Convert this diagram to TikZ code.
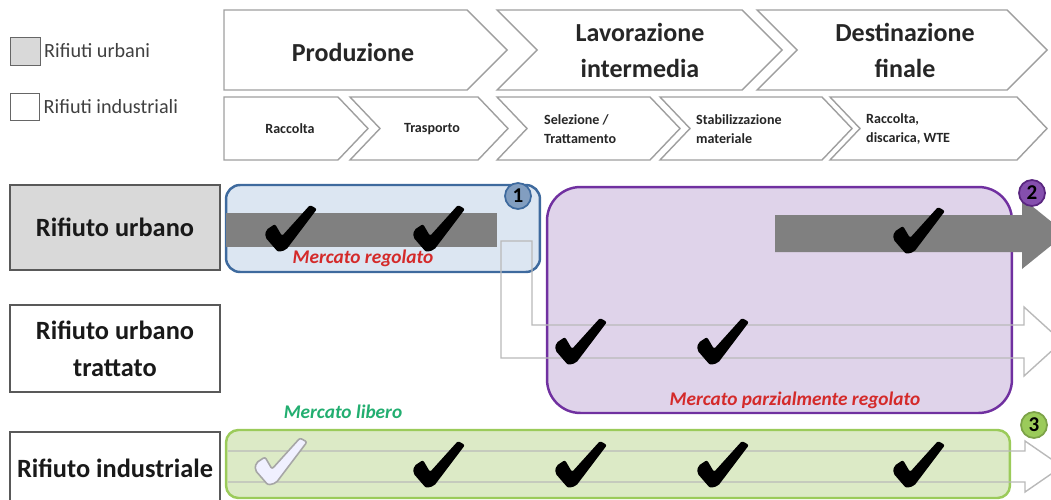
\documentclass[tikz,border=0pt]{standalone}
\usepackage{fontspec}
\setmainfont{Carlito}
\usepackage{xcolor}
\usepackage{tikz}
\usetikzlibrary{calc}
\usetikzlibrary{positioning}

\definecolor{urbfill}{HTML}{D9D9D9}
\definecolor{bluefill}{HTML}{DCE6F2}
\definecolor{blueline}{HTML}{3E6A9E}
\definecolor{purfill}{HTML}{DFD3EA}
\definecolor{purline}{HTML}{7030A0}
\definecolor{grnfill}{HTML}{DCEAC6}
\definecolor{grnline}{HTML}{9BCB5A}
\definecolor{redtxt}{HTML}{D42A2A}
\definecolor{grntxt}{HTML}{22AE70}
\definecolor{bar}{HTML}{808080}

\tikzset{
  chk/.pic={
    \path[pic actions, rounded corners=1.2pt] (1,25) -- (10,19) -- (17,31) -- (45,0) -- (52,4) -- (21,45) -- (13,47) -- (0,32) -- cycle;
  }
}

\begin{document}
\begin{tikzpicture}[x=0.02cm, y=-0.02cm,
  chev/.style={draw=gray!75, fill=white, line width=0.8pt},
  hdr/.style={font=\bfseries\fontsize{14.8}{20.5}\selectfont, align=center, text=black!85},
  sub/.style={font=\bfseries\fontsize{8}{10.5}\selectfont, align=left, text=black!85},
  legtxt/.style={font=\fontsize{11.5}{14}\selectfont, text=black!75, inner sep=1pt},
  rowlbl/.style={draw=black!65, line width=1pt, minimum width=4.2cm, font=\bfseries\fontsize{15}{21}\selectfont, align=center, text=black!90},
  mkt/.style={font=\bfseries\itshape\fontsize{11}{13}\selectfont},
  num/.style={circle, minimum size=0.52cm, inner sep=0pt, line width=1pt, font=\bfseries\fontsize{12}{12}\selectfont},
  outl/.style={draw=gray!55, line width=0.8pt}]
\useasboundingbox (0,0) rectangle (1051,500);
\clip (0,0) rectangle (1051,500);

% legend
\node [draw=black!60, fill=urbfill, minimum width=0.6cm, minimum height=0.56cm] (lgurb) at (25,51) {};
\node [draw=black!60, fill=white, minimum width=0.58cm, minimum height=0.54cm] (lgind) at (25,106.5) {};
\node [legtxt, right=1pt of lgurb] (lgurbt) {Rifiuti urbani};
\node [legtxt, right=1pt of lgind] (lgindt) {Rifiuti industriali};

% phases
\foreach \l/\r/\n in {224/467/0, 497/742/40, 757/1007/40}
  \draw [chev] (\l,10) -- (\r,10) -- (\r+40,50) -- (\r,90) -- (\l,90) -- (\l+\n,50) -- cycle;
\foreach \l/\r/\n in {224/338/0, 350/478/30, 497/650/30, 660/822/30, 830/1017/30}
  \draw [chev] (\l,97) -- (\r,97) -- (\r+30,128.5) -- (\r,160) -- (\l,160) -- (\l+\n,128.5) -- cycle;
\node [hdr] (prod) at (353,52) {Produzione};
\node [hdr] (lav) at (640,50) {Lavorazione\\intermedia};
\node [hdr] (dest) at (905,50) {Destinazione\\finale};
\node [sub] (racc) at (290,129) {Raccolta};
\node [sub] (trasp) at (432,129) {Trasporto};
\node [sub, anchor=west] (sel) at (538,129) {Selezione /\\Trattamento};
\node [sub, anchor=west] (stab) at (690,129) {Stabilizzazione\\materiale};
\node [sub, anchor=west] (disc) at (860,129) {Raccolta,\\discarica, WTE};

% rows
\node [rowlbl, fill=urbfill, minimum height=1.7cm] (ru) at (115,227.5) {Rifiuto urbano};
\node [rowlbl, fill=white, minimum height=1.74cm] (rut) at (115,348.5) {Rifiuto urbano\\trattato};
\node [rowlbl, fill=white, minimum height=1.44cm] (ri) at (115,468) {Rifiuto industriale};

% markets
\node [draw=blueline, fill=bluefill, line width=1.4pt, rounded corners=8pt, minimum width=6.28cm, minimum height=1.74cm] (reg) at (383,228.5) {};
\node [draw=purline, fill=purfill, line width=1.4pt, rounded corners=19pt, minimum width=9.3cm, minimum height=4.52cm] (parz) at (779.5,300) {};
\node [draw=grnline, fill=grnfill, line width=1.4pt, rounded corners=7pt, minimum width=15.68cm, minimum height=1.36cm] (lib) at (618,464) {};

% flows
\fill [bar] (226,213) rectangle (497,247);
\fill [bar] (775,215) -- (1022,215) -- (1022,198) -- (1066,233.5) -- (1022,269) -- (1022,252) -- (775,252) -- cycle;
\draw [outl] (501,241) -- (532,241) -- (532,325) -- (1024,325) -- (1024,307) -- (1062,341.5) -- (1024,376) -- (1024,358) -- (501,358) -- cycle;
\draw [outl] (228,451) -- (1025,451) -- (1025,441) -- (1062,466.5) -- (1025,492) -- (1025,482) -- (228,482);

% checks
\foreach \x/\y in {265/205, 413/205, 893/207, 555/318, 697/318, 413/441, 555/441, 697/441, 893/441}
  \pic [fill=black] at (\x,\y) {chk};
\pic [draw=gray!70, fill=white!94!blue, line width=0.9pt] at (255,438) {chk};

% labels
\node [mkt, text=redtxt] (regt) at (363,258) {Mercato regolato};
\node [mkt, text=redtxt] (parzt) at (795,400) {Mercato parzialmente regolato};
\node [mkt, text=grntxt] (libt) at (343,412) {Mercato libero};
\node [num, draw=blueline, fill=blueline!65] (n1) at (518,196) {1};
\node [num, draw=purline!80!black, fill=purline!85] (n2) at (1032,193) {2};
\node [num, draw=grnline!80!black, fill=grnline] (n3) at (1034,425) {3};
\end{tikzpicture}
\end{document}
